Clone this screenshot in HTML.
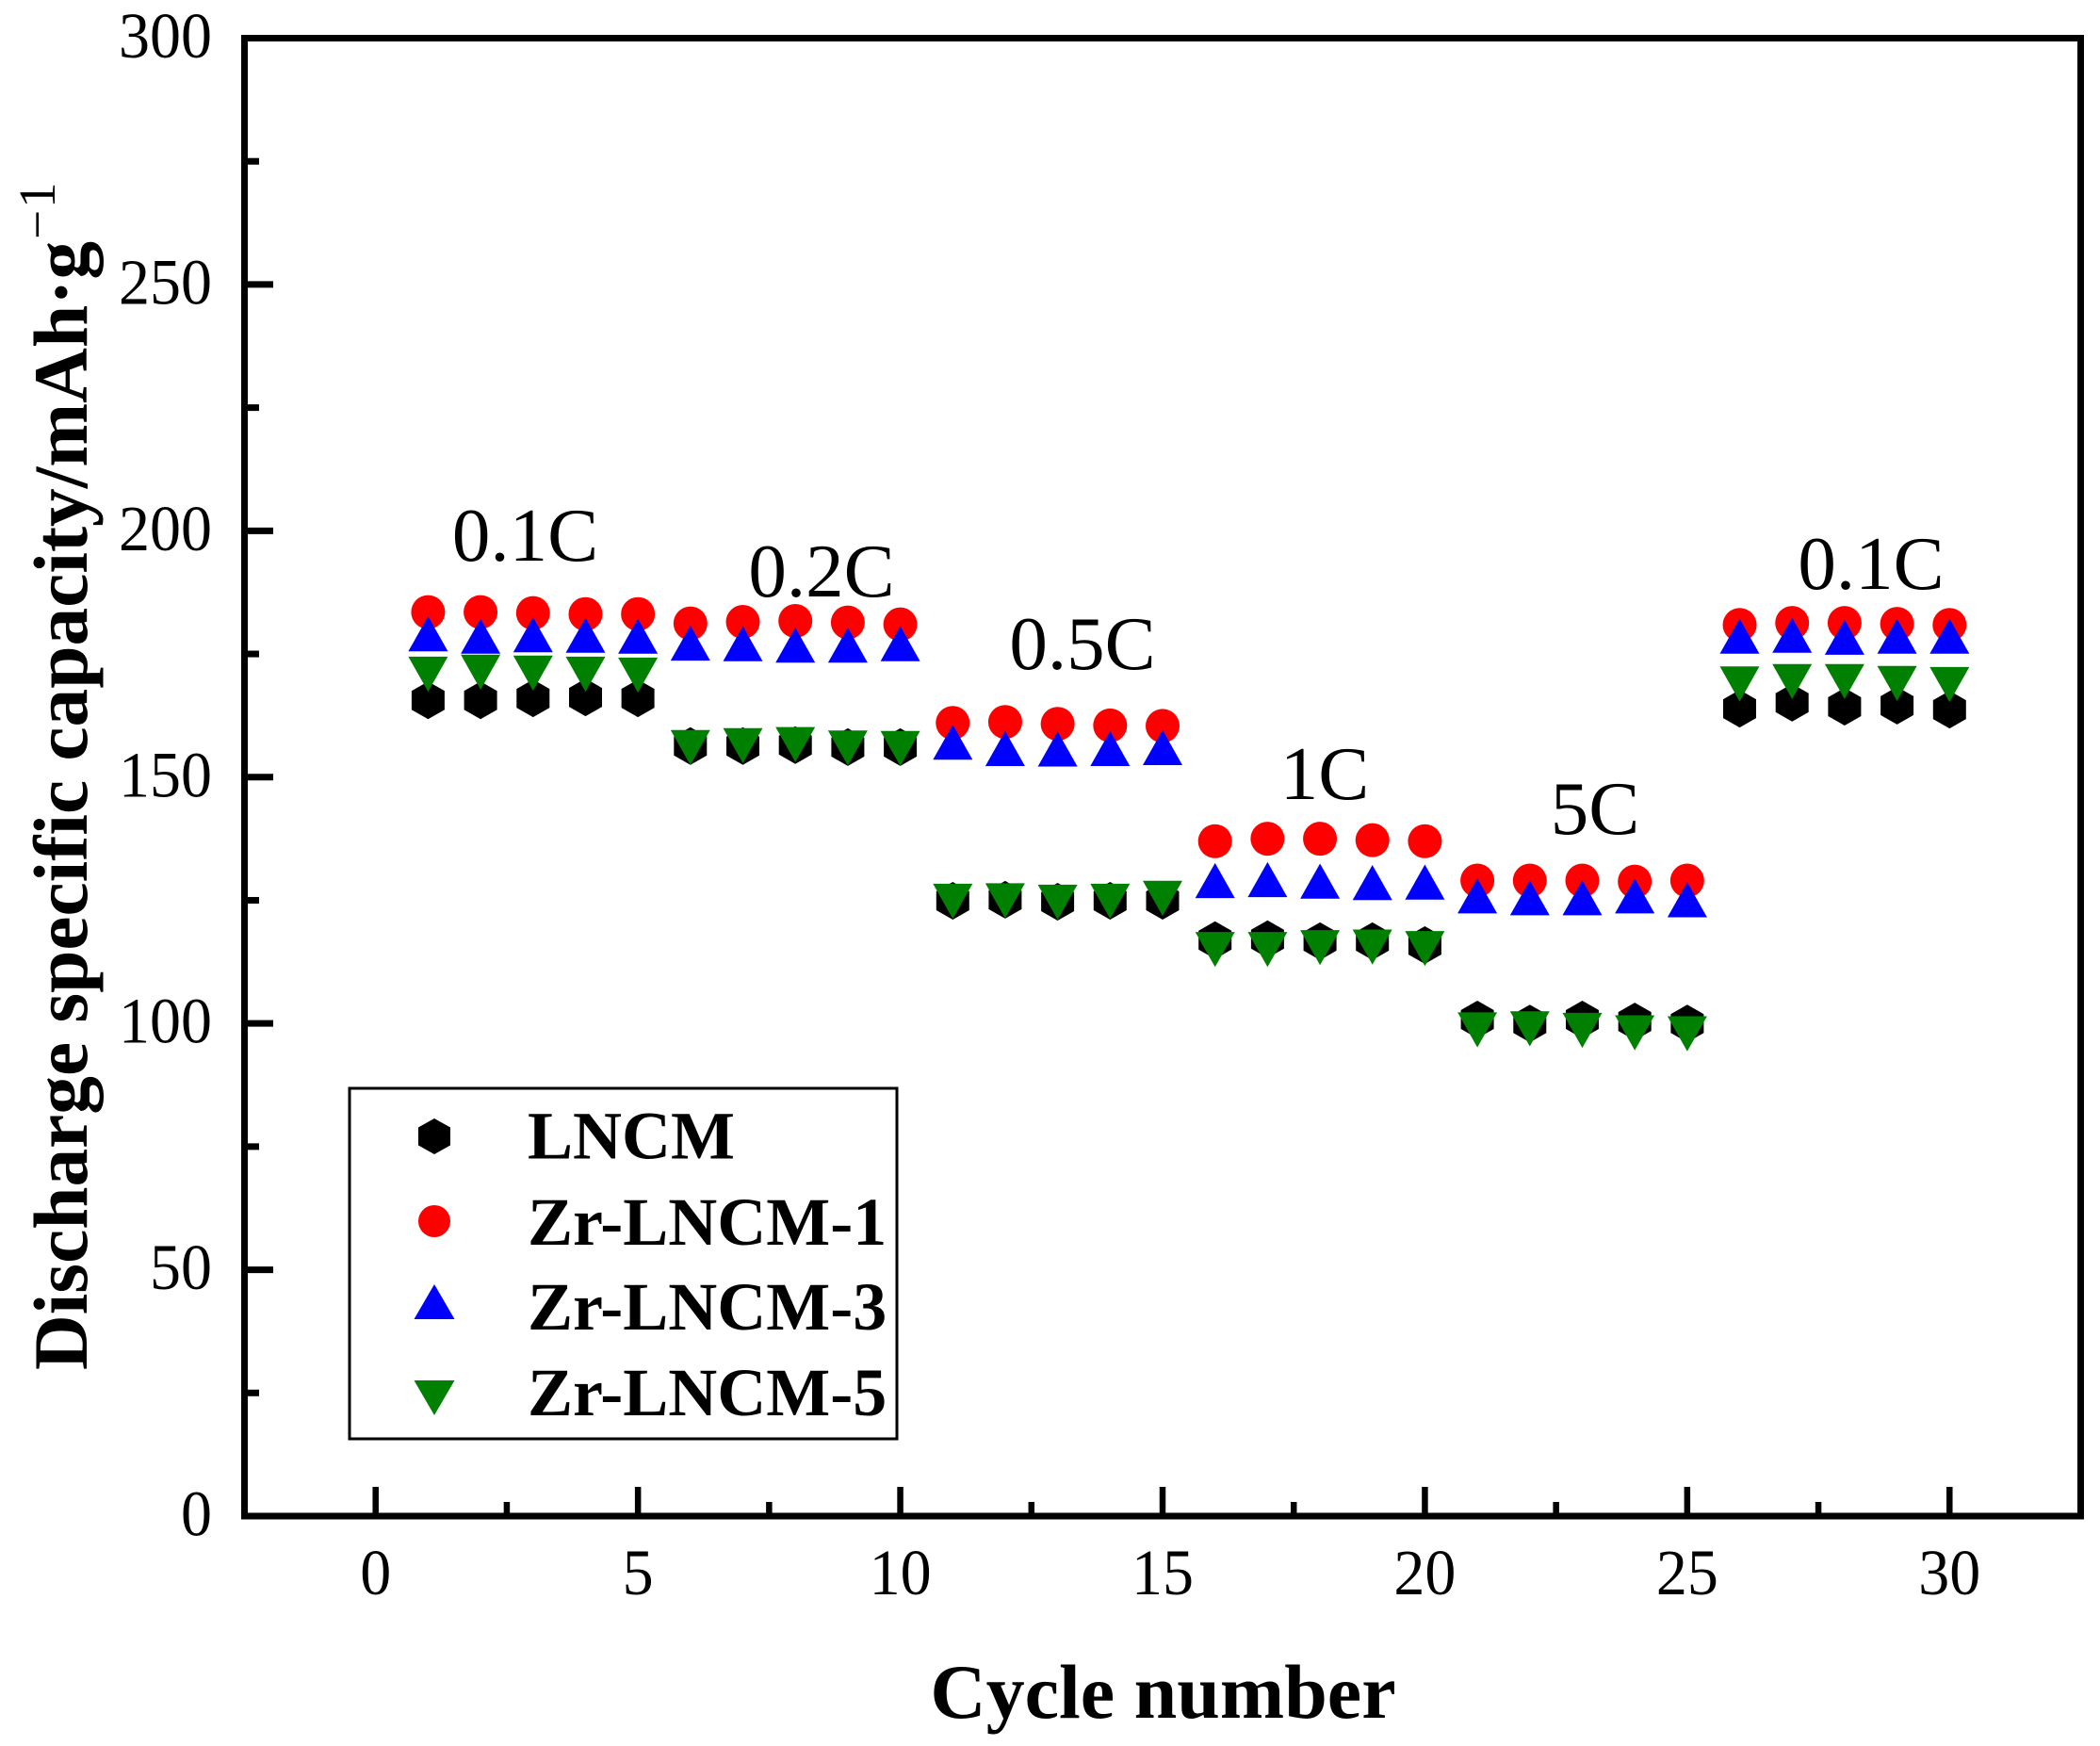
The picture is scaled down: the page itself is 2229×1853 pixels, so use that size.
<!DOCTYPE html>
<html lang="en">
<head>
<meta charset="utf-8">
<title>Discharge specific capacity vs cycle number</title>
<style>
html,body{margin:0;padding:0;background:#fff;}
svg{display:block;font-family:"Liberation Serif",serif;}
</style>
</head>
<body>
<svg id="chart" xmlns="http://www.w3.org/2000/svg" width="2229" height="1853" viewBox="0 0 2229 1853">
  <rect x="0" y="0" width="2229" height="1853" fill="#fff"/>
  <g id="ticks"></g>
  <g id="marks"></g>
  <rect x="259.5" y="40.5" width="1949" height="1568.5" fill="none" stroke="#000" stroke-width="7"/>

  <g font-size="81" text-anchor="middle" fill="#000">
    <text x="557.5" y="595">0.1C</text>
    <text x="872" y="633">0.2C</text>
    <text x="1149" y="710">0.5C</text>
    <text x="1406" y="848">1C</text>
    <text x="1693" y="885">5C</text>
    <text x="1986" y="625">0.1C</text>
  </g>

  <g>
    <rect x="371" y="1155" width="581" height="372" fill="#fff" stroke="#000" stroke-width="3"/>
    <polygon points="461,1187 478,1196.5 478,1215.5 461,1225 444,1215.5 444,1196.5" fill="#000"/>
    <circle cx="461" cy="1296" r="17" fill="#f00"/>
    <polygon points="461,1363 482.5,1400 439.5,1400" fill="#00f"/>
    <polygon points="439.5,1465 482.5,1465 461,1502" fill="#008000"/>
    <g font-size="72" font-weight="bold" fill="#000">
      <text x="560" y="1229.5">LNCM</text>
      <text x="560" y="1321">Zr-LNCM-1</text>
      <text x="560" y="1411">Zr-LNCM-3</text>
      <text x="560" y="1502">Zr-LNCM-5</text>
    </g>
  </g>

  <text x="1234.5" y="1823" font-size="82" font-weight="bold" text-anchor="middle" fill="#000">Cycle number</text>

  <g transform="translate(92 1454) rotate(-90)" fill="#000">
    <text x="0" y="0" font-size="81.4" font-weight="bold">Discharge specific capacity/mAh·g</text>
    <text x="1200" y="-34" font-size="55" letter-spacing="2">−1</text>
  </g>
</svg>
<script>
var xTicks = [0, 5, 10, 15, 20, 25, 30];
var xTickLabels = ["0", "5", "10", "15", "20", "25", "30"];
var xMinorTicks = [2.5, 7.5, 12.5, 17.5, 22.5, 27.5];
var yTicks = [0, 50, 100, 150, 200, 250, 300];
var yTickLabels = ["0", "50", "100", "150", "200", "250", "300"];
var yMinorTicks = [25, 75, 125, 175, 225, 275];

var cycles = [1,2,3,4,5,6,7,8,9,10,11,12,13,14,15,16,17,18,19,20,21,22,23,24,25,26,27,28,29,30];

var lncm = [165.6,165.6,166.0,166.2,166.0,156.3,156.3,156.5,156.1,156.1,124.9,125.1,124.7,124.9,124.9,116.9,117.1,116.7,116.7,115.9,100.8,100.0,100.8,100.4,100.0,163.9,165.1,164.3,164.5,163.7];
var zrLncm1 = [183.5,183.5,183.3,183.1,183.1,181.2,181.5,181.7,181.4,181.0,161.0,161.2,160.8,160.5,160.4,137.0,137.5,137.5,137.2,137.0,129.0,129.0,129.0,128.8,129.0,180.9,181.3,181.3,181.1,180.9];
var zrLncm3 = [179.1,178.6,178.9,178.8,178.6,177.2,177.1,176.8,176.8,177.1,157.1,155.8,155.7,155.8,156.0,129.0,129.2,128.9,128.6,128.7,125.9,125.5,125.5,125.9,125.1,178.6,178.8,178.4,178.6,178.6];
var zrLncm5 = [170.9,171.3,171.1,170.9,170.7,156.0,156.4,156.6,155.9,155.8,124.8,124.9,124.6,124.8,125.4,115.0,115.0,115.4,115.5,115.2,98.7,98.9,98.6,98.1,97.9,168.9,169.4,169.4,169.0,168.8];

var xDomain = [-2.5, 32.5];
var xRange = [259.5, 2208.5];
var yDomain = [0, 300];
var yRange = [1609, 40.5];

function xScale(v) {
  return xRange[0] + (v - xDomain[0]) * (xRange[1] - xRange[0]) / (xDomain[1] - xDomain[0]);
}
function yScale(v) {
  return yRange[0] + (v - yDomain[0]) * (yRange[1] - yRange[0]) / (yDomain[1] - yDomain[0]);
}

var SVG_NS = "http://www.w3.org/2000/svg";
function make(tag, parent, attrs) {
  var el = document.createElementNS(SVG_NS, tag);
  for (var k in attrs) { el.setAttribute(k, attrs[k]); }
  parent.appendChild(el);
  return el;
}

var tickLayer = document.getElementById("ticks");
var markLayer = document.getElementById("marks");

xTicks.forEach(function (t, i) {
  var line = make("line", tickLayer, {x1: xScale(t), x2: xScale(t), y1: yRange[0], y2: 1578, stroke: "#000", "stroke-width": 6.5});
  
  
  var label = make("text", tickLayer, {transform: "translate(" + xScale(t) + " 1692) scale(1 1.05)", "font-size": 66, "text-anchor": "middle", fill: "#000"});
  
  
  label.textContent = xTickLabels[i];
});
xMinorTicks.forEach(function (t) {
  var line = make("line", tickLayer, {x1: xScale(t), x2: xScale(t), y1: yRange[0], y2: 1594, stroke: "#000", "stroke-width": 6.5});
  
  
});
yTicks.forEach(function (t, i) {
  var line = make("line", tickLayer, {x1: xRange[0], x2: 290, y1: yScale(t), y2: yScale(t), stroke: "#000", "stroke-width": 7});
  
  
  var label = make("text", tickLayer, {transform: "translate(225 " + (yScale(t) + 20.5) + ") scale(1 1.05)", "font-size": 66, "text-anchor": "end", fill: "#000"});
  
  
  label.textContent = yTickLabels[i];
});
yMinorTicks.forEach(function (t) {
  var line = make("line", tickLayer, {x1: xRange[0], x2: 275, y1: yScale(t), y2: yScale(t), stroke: "#000", "stroke-width": 7});
  
  
});

function pts(list) {
  return list.map(function (p) { return p[0].toFixed(1) + "," + p[1].toFixed(1); }).join(" ");
}

function hexagon(parent, cx, cy) {
  return make("polygon", parent, {fill: "#000", points: pts([[cx, cy - 20], [cx + 17.5, cy - 10], [cx + 17.5, cy + 10], [cx, cy + 20], [cx - 17.5, cy + 10], [cx - 17.5, cy - 10]])});
}
function dot(parent, cx, cy) {
  return make("circle", parent, {fill: "#f00", cx: cx, cy: cy, r: 18});
}
function triangleUp(parent, cx, cy) {
  return make("polygon", parent, {fill: "#00f", points: pts([[cx, cy - 18.6], [cx + 21, cy + 18.6], [cx - 21, cy + 18.6]])});
}
function triangleDown(parent, cx, cy) {
  return make("polygon", parent, {fill: "#008000", points: pts([[cx - 21, cy - 18.6], [cx + 21, cy - 18.6], [cx, cy + 18.6]])});
}

function drawSeries(values, drawMarker, name) {
  var group = make("g", markLayer, {});
  
  
  values.forEach(function (v, i) {
    var mark = drawMarker(group, xScale(cycles[i]), yScale(v));
    
    
  });
}

drawSeries(lncm, hexagon, "series-lncm");
drawSeries(zrLncm1, dot, "series-zr-lncm-1");
drawSeries(zrLncm3, triangleUp, "series-zr-lncm-3");
drawSeries(zrLncm5, triangleDown, "series-zr-lncm-5");
</script>
</body>
</html>
